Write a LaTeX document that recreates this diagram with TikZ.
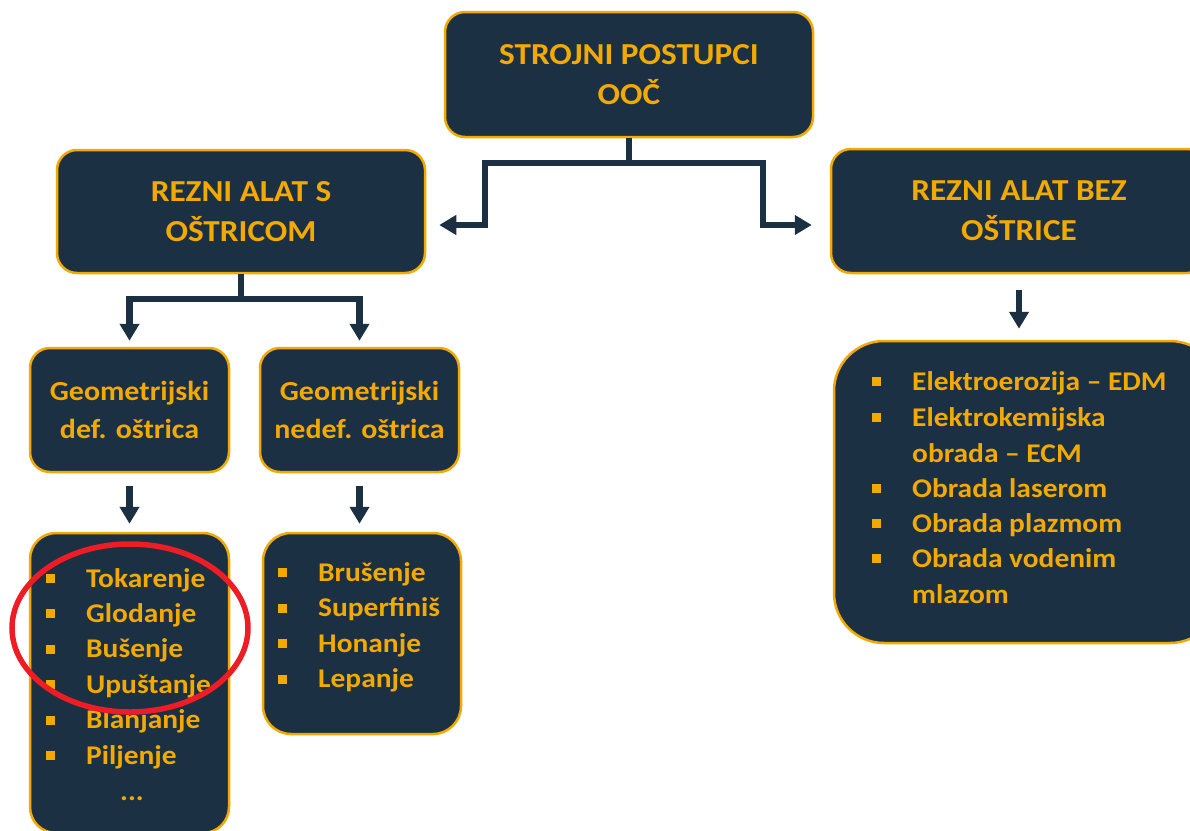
\documentclass[tikz,border=0pt]{standalone}
\usepackage{fontspec}
\setmainfont{Carlito}[FakeStretch=1.09]
\usetikzlibrary{arrows.meta}
\definecolor{tamna}{HTML}{1C3044}
\definecolor{zuta}{HTML}{F2A900}
\definecolor{crvena}{HTML}{EE1C25}
\newcommand\tocka{\makebox[40pt][l]{\raisebox{4pt}{\rule{9pt}{9pt}}}}
\tikzset{
  kutija/.style={draw=zuta,fill=tamna,line width=2.5pt,rounded corners=20pt,text=zuta,
    font=\bfseries\fontsize{30.5}{40}\selectfont,align=center},
  podkutija/.style={kutija,font=\bfseries\fontsize{27.5}{38}\selectfont,minimum width=199pt,minimum height=124pt},
  veza/.style={draw=tamna,line width=6.5pt,-{Triangle[width=19pt,length=17pt]}},
  stavka/.style={anchor=base west,inner sep=0pt,text=zuta,font=\bfseries\fontsize{27}{35}\selectfont}
}
\begin{document}
\begin{tikzpicture}[x=1pt,y=-1pt]
\useasboundingbox(0,0)rectangle(1190,830);
\clip(0,0)rectangle(1190,830);
% okviri
\node[kutija,minimum width=368pt,minimum height=125pt](vrh)at(629,74.5){STROJNI POSTUPCI\\OOČ};
\node[kutija,minimum width=368pt,minimum height=123pt](lijevo)at(241,211.5){REZNI ALAT S\\OŠTRICOM};
\node[kutija,minimum width=376pt,minimum height=124pt](desno)at(1019,211){REZNI ALAT BEZ\\OŠTRICE};
\node[podkutija](geo1)at(129.5,410){Geometrijski\\def. oštrica};
\node[podkutija](geo2)at(359.5,410){Geometrijski\\nedef. oštrica};
\node[kutija,rounded corners=26pt,minimum width=199pt,minimum height=300pt](lista1)at(129.5,683){};
\node[kutija,rounded corners=28pt,minimum width=198pt,minimum height=201pt](lista2)at(362,633.5){};
\node[kutija,rounded corners=50pt,minimum width=386pt,minimum height=302pt](lista3)at(1027,492){};
% veze
\coordinate(gore)at(629,163);
\coordinate(lkut)at(485,225);
\coordinate(dkut)at(763,225);
\draw[veza,shorten >=13pt](vrh.south)--(gore)-|(lkut)--(lkut-|lijevo.east);
\draw[veza,shorten >=18pt](gore)-|(dkut)--(dkut-|desno.west);
\draw[veza,shorten >=6pt](lijevo.south)--(241,299)-|(geo1.north);
\draw[veza,shorten >=6pt](241,299)-|(geo2.north);
\draw[veza,shorten <=13pt,shorten >=8pt](geo1.south)--(lista1.north-|geo1.south);
\draw[veza,shorten <=13pt,shorten >=8pt](geo2.south)--(lista2.north-|geo2.south);
\draw[veza,shorten <=16pt,shorten >=11pt](desno.south)--(lista3.north-|desno.south);
% stavke
\foreach \tekst [count=\i from 0] in {Tokarenje,Glodanje,Bušenje,Upuštanje,Blanjanje,Piljenje}
  \node[stavka](tok\i)at(46,587+35.4*\i){\tocka\tekst};
\node[stavka,anchor=base](tok6)at(132,800){...};
\foreach \tekst [count=\i from 0] in {Brušenje,Superfiniš,Honanje,Lepanje}
  \node[stavka](brus\i)at(278,581+35.6*\i){\tocka\tekst};
\foreach \tekst/\y in {Elektroerozija – EDM/390,Elektrokemijska/426,Obrada laserom/497,Obrada plazmom/532,Obrada vodenim/567}
  \node[stavka](ne\y)at(872,\y){\tocka\tekst};
\node[stavka](ne462)at(912,462){obrada – ECM};
\node[stavka](ne603)at(912,603){mlazom};
% oznaka
\draw[crvena,line width=5.5pt](130,628)ellipse[x radius=118,y radius=84];
\end{tikzpicture}
\end{document}
